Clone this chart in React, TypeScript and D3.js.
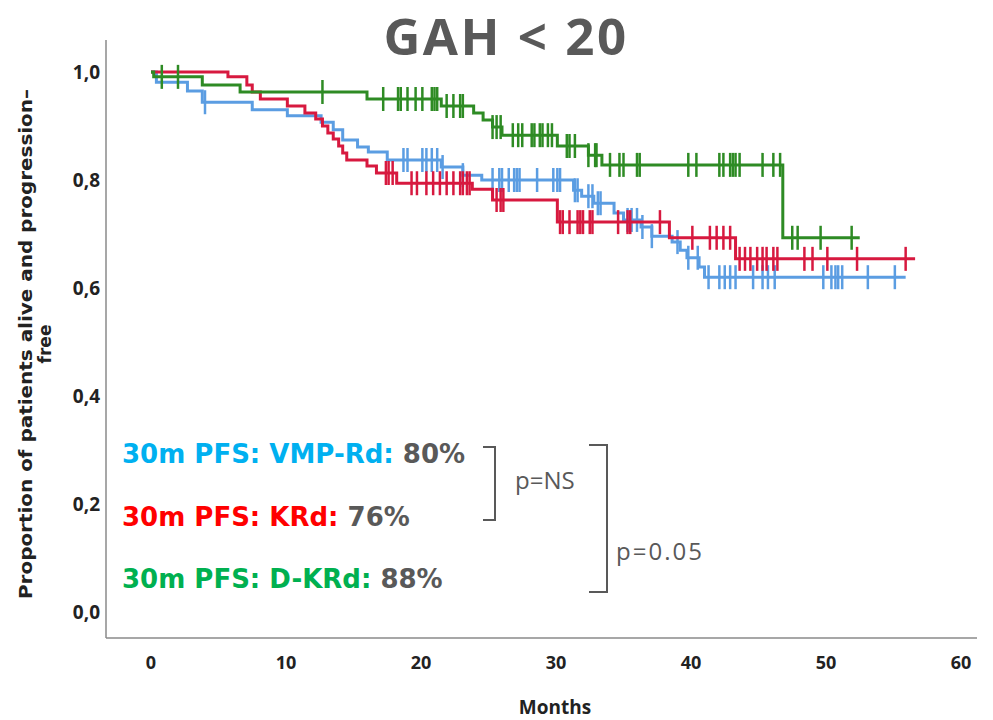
import React from "react";
import * as d3 from "d3";

// Kaplan-Meier steps: [month, survival after the drop]
const vmpRdSteps: [number, number][] = [
  [0.4, 0.981], [2.7, 0.965], [3.8, 0.944], [7.5, 0.93], [10.1, 0.919],
  [12.6, 0.907], [13.5, 0.893], [14.2, 0.874], [15.3, 0.861], [16.1, 0.852],
  [17.5, 0.837], [21.5, 0.824], [23.1, 0.809], [24.5, 0.8], [31.3, 0.781],
  [31.9, 0.77], [32.8, 0.757], [34.3, 0.739], [35.0, 0.726], [36.3, 0.713],
  [37.1, 0.696], [38.6, 0.685], [39.2, 0.67], [39.7, 0.656], [40.6, 0.639],
  [41.0, 0.62],
];
const vmpRdEnd = 55.9;
const vmpRdCensored = [
  4.0, 18.7, 19.0, 20.1, 20.4, 20.8, 21.2, 21.6, 23.1, 25.3, 25.8, 26.0, 26.5,
  26.9, 27.1, 27.3, 28.6, 29.8, 30.1, 30.3, 31.4, 31.6, 32.4, 32.7, 33.1, 33.3,
  35.3, 35.6, 36.0, 36.4, 37.1, 39.0, 39.8, 40.5, 41.3, 42.1, 42.5, 42.9, 43.3,
  44.6, 45.3, 45.7, 46.2, 49.8, 50.4, 50.7, 50.9, 51.2, 53.1, 55.1,
];

const krdSteps: [number, number][] = [
  [5.7, 0.991], [7.1, 0.976], [7.5, 0.963], [8.1, 0.95], [10.1, 0.937],
  [11.4, 0.924], [12.2, 0.913], [12.7, 0.9], [13.1, 0.887], [13.5, 0.876],
  [13.9, 0.863], [14.2, 0.85], [14.5, 0.837], [16.0, 0.826], [16.7, 0.813],
  [18.2, 0.794], [23.8, 0.783], [25.3, 0.763], [30.1, 0.722], [38.4, 0.693],
  [43.3, 0.654],
];
const krdEnd = 56.6;
const krdCensored = [
  17.4, 17.6, 17.9, 19.3, 19.7, 20.4, 20.9, 21.4, 21.9, 22.4, 22.9, 23.1, 23.4,
  23.6, 25.6, 25.9, 26.1, 30.3, 30.5, 31.0, 31.6, 31.8, 32.0, 32.5, 32.7, 34.6,
  35.3, 35.5, 37.7, 40.1, 41.4, 41.9, 42.4, 42.9, 43.6, 44.0, 44.4, 44.9, 45.3,
  45.6, 46.1, 46.4, 48.4, 49.0, 50.1, 52.3, 55.9,
];

const dkrdSteps: [number, number][] = [
  [0.2, 0.991], [3.8, 0.976], [6.6, 0.963], [16.0, 0.95], [21.5, 0.937],
  [23.9, 0.924], [24.6, 0.911], [25.3, 0.898], [26.0, 0.883], [30.1, 0.863],
  [32.4, 0.846], [33.4, 0.828], [46.8, 0.693],
];
const dkrdEnd = 52.5;
const dkrdCensored = [
  0.8, 2.0, 12.7, 17.2, 18.3, 18.5, 19.0, 19.6, 20.1, 20.8, 21.0, 21.2, 21.9,
  22.4, 22.9, 23.1, 25.3, 25.6, 25.9, 26.8, 27.2, 27.5, 28.2, 28.4, 28.8, 29.0,
  29.4, 29.7, 30.8, 31.0, 31.4, 32.4, 32.9, 33.0, 34.0, 34.7, 35.0, 36.0, 36.2,
  39.8, 40.4, 42.1, 42.4, 42.9, 43.1, 43.3, 43.6, 45.3, 46.1, 46.6, 47.5, 47.9,
  49.6, 51.9,
];

const xTicks = [0, 10, 20, 30, 40, 50, 60];
const yTicks = [0, 0.2, 0.4, 0.6, 0.8, 1.0];

const legendRows = [
  { label: "30m PFS: VMP-Rd: ", value: "80%", color: "#00b0f0" },
  { label: "30m PFS: KRd: ", value: "76%", color: "#ff0000" },
  { label: "30m PFS: D-KRd: ", value: "88%", color: "#00b050" },
];

const W = 993;
const H = 720;
const gray = "#595959";

const x = d3.scaleLinear().domain([0, 60]).range([151, 961]);
const y = d3.scaleLinear().domain([0, 1]).range([612, 72]);

const commaFmt = d3.formatLocale({
  decimal: ",",
  thousands: ".",
  grouping: [3],
  currency: ["", ""],
}).format(".1f");

function survivalAt(steps: [number, number][], t: number) {
  let s = 1;
  for (const [st, sv] of steps) if (st <= t) s = sv;
  return s;
}

function Curve({ steps, end, censored, color }: {
  steps: [number, number][]; end: number; censored: number[]; color: string;
}) {
  const pts: [number, number][] = [[0, 1], ...steps, [end, steps[steps.length - 1][1]]];
  const line = d3.line<[number, number]>()
    .x((d) => x(d[0]))
    .y((d) => y(d[1]))
    .curve(d3.curveStepAfter);
  return (
    <g>
      <path d={line(pts) || ""} fill="none" stroke={color} strokeWidth={3} />
      {censored.map((c, i) => {
        const cy = y(survivalAt(steps, c));
        return (
          <line key={i} x1={x(c)} x2={x(c)} y1={cy - 12} y2={cy + 12}
            stroke={color} strokeWidth={2.5} />
        );
      })}
    </g>
  );
}

export default function App() {
  const frameLeft = 106;
  const frameBottom = 638;
  const dejavu = "'DejaVu Sans', sans-serif";
  return (
    <svg width={W} height={H} style={{ position: "absolute", left: 0, top: 0, background: "#fff" }}
      fontFamily="'Open Sans', sans-serif">
      <text x={506} y={55} textAnchor="middle" fontSize={51} fontWeight={700}
        fill={gray} letterSpacing={2.5}>GAH &lt; 20</text>

      {/* frame */}
      <line x1={frameLeft} x2={frameLeft} y1={40} y2={frameBottom} stroke="#8a8a8a" strokeWidth={1.5} />
      <line x1={frameLeft} x2={977} y1={frameBottom} y2={frameBottom} stroke="#8a8a8a" strokeWidth={1.5} />

      {yTicks.map((t) => (
        <text key={t} x={100} y={y(t)} dy="0.35em" textAnchor="end" fontSize={19}
          fontWeight={700} fill="#222">{commaFmt(t)}</text>
      ))}
      {xTicks.map((t) => (
        <text key={t} x={x(t)} y={663} dy="0.35em" textAnchor="middle" fontSize={18}
          fontWeight={700} fill="#222">{t}</text>
      ))}
      <text x={555} y={707} dy="0.35em" textAnchor="middle" fontSize={19}
        fontWeight={700} fill="#222">Months</text>

      <g transform="translate(26,344) rotate(-90)">
        <text x={0} y={0} dy="0.35em" textAnchor="middle" fontSize={17} fontFamily={dejavu}
          fontWeight={700} fill="#222" textLength={510} lengthAdjust="spacingAndGlyphs">
          Proportion of patients alive and progression–
        </text>
        <text x={0} y={19} dy="0.35em" textAnchor="middle" fontSize={17} fontFamily={dejavu}
          fontWeight={700} fill="#222">
          free
        </text>
      </g>

      <Curve steps={vmpRdSteps} end={vmpRdEnd} censored={vmpRdCensored} color="#5b9de2" />
      <Curve steps={krdSteps} end={krdEnd} censored={krdCensored} color="#d7193f" />
      <Curve steps={dkrdSteps} end={dkrdEnd} censored={dkrdCensored} color="#2e8b24" />

      {legendRows.map((r, i) => (
        <text key={r.label} x={122} y={463 + i * 62.5} fontSize={26} fontWeight={700}
          fontFamily={dejavu}>
          <tspan fill={r.color}>{r.label}</tspan>
          <tspan fill={gray}>{r.value}</tspan>
        </text>
      ))}

      <path d="M483,447 H495 V520 H483" fill="none" stroke={gray} strokeWidth={2} />
      <path d="M589,445 H607 V592 H589" fill="none" stroke={gray} strokeWidth={2} />
      <text x={515} y={489} fontSize={24} fill={gray}>p=NS</text>
      <text x={616} y={560} fontSize={24} fill={gray} letterSpacing={2}>p=0.05</text>
    </svg>
  );
}
